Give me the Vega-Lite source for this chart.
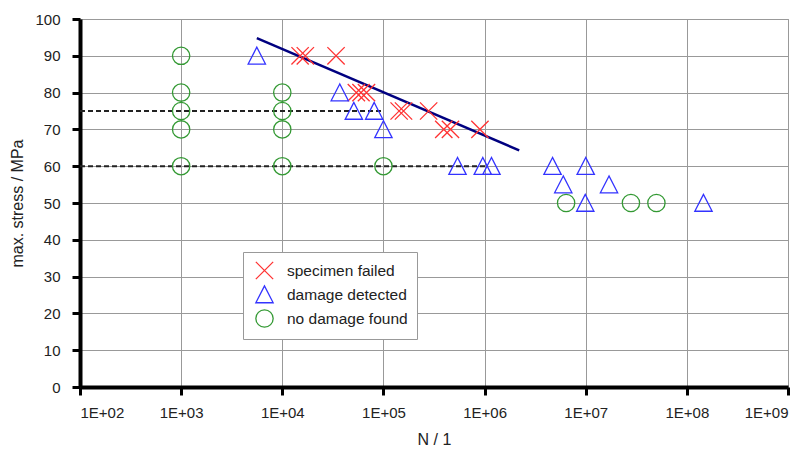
{
  "$schema": "https://vega.github.io/schema/vega-lite/v6.json",
  "width": 708,
  "height": 368,
  "autosize": {"type": "none"},
  "padding": {"left": 80, "top": 19, "right": 16, "bottom": 66},
  "background": "white",
  "config": {
    "font": "Liberation Sans",
    "view": {"stroke": "#999999", "strokeWidth": 1}
  },
  "datasets": {
    "points": [
      {"N": 15000, "stress": 90, "type": "specimen failed"},
      {"N": 16900, "stress": 90, "type": "specimen failed"},
      {"N": 34000, "stress": 90, "type": "specimen failed"},
      {"N": 54000, "stress": 80, "type": "specimen failed"},
      {"N": 60000, "stress": 80, "type": "specimen failed"},
      {"N": 68000, "stress": 80, "type": "specimen failed"},
      {"N": 143000, "stress": 75, "type": "specimen failed"},
      {"N": 158000, "stress": 75, "type": "specimen failed"},
      {"N": 280000, "stress": 75, "type": "specimen failed"},
      {"N": 395000, "stress": 70, "type": "specimen failed"},
      {"N": 460000, "stress": 70, "type": "specimen failed"},
      {"N": 900000, "stress": 70, "type": "specimen failed"},
      {"N": 5600, "stress": 90, "type": "damage detected"},
      {"N": 37000, "stress": 80, "type": "damage detected"},
      {"N": 51000, "stress": 75, "type": "damage detected"},
      {"N": 81000, "stress": 75, "type": "damage detected"},
      {"N": 100000, "stress": 70, "type": "damage detected"},
      {"N": 540000, "stress": 60, "type": "damage detected"},
      {"N": 960000, "stress": 60, "type": "damage detected"},
      {"N": 1170000, "stress": 60, "type": "damage detected"},
      {"N": 4700000, "stress": 60, "type": "damage detected"},
      {"N": 6000000, "stress": 55, "type": "damage detected"},
      {"N": 10000000, "stress": 60, "type": "damage detected"},
      {"N": 9900000, "stress": 50, "type": "damage detected"},
      {"N": 17000000, "stress": 55, "type": "damage detected"},
      {"N": 146000000, "stress": 50, "type": "damage detected"},
      {"N": 1000, "stress": 90, "type": "no damage found"},
      {"N": 1000, "stress": 80, "type": "no damage found"},
      {"N": 1000, "stress": 75, "type": "no damage found"},
      {"N": 1000, "stress": 70, "type": "no damage found"},
      {"N": 1000, "stress": 60, "type": "no damage found"},
      {"N": 10000, "stress": 80, "type": "no damage found"},
      {"N": 10000, "stress": 75, "type": "no damage found"},
      {"N": 10000, "stress": 70, "type": "no damage found"},
      {"N": 10000, "stress": 60, "type": "no damage found"},
      {"N": 100000, "stress": 60, "type": "no damage found"},
      {"N": 6400000, "stress": 50, "type": "no damage found"},
      {"N": 28000000, "stress": 50, "type": "no damage found"},
      {"N": 50000000, "stress": 50, "type": "no damage found"}
    ],
    "refs": [
      {"N": 100, "stress": 75, "g": "a"},
      {"N": 100000, "stress": 75, "g": "a"},
      {"N": 100, "stress": 60, "g": "b"},
      {"N": 1050000, "stress": 60, "g": "b"}
    ],
    "fit": [
      {"N": 5600, "stress": 94.8},
      {"N": 2200000, "stress": 64.3}
    ]
  },
  "encoding": {
    "x": {"field": "N", "type": "quantitative", "scale": {"type": "log", "domain": [100, 1000000000]},
      "axis": {"values": [100, 1000, 10000, 100000, 1000000, 10000000, 100000000, 1000000000],
        "labelExpr": "'1E+0' + format(log(datum.value)/LN10, '.0f')", "grid": true, "title": "N / 1",
        "gridColor": "#999999", "gridWidth": 1, "gridOpacity": 1,
        "domainColor": "#000000", "domainWidth": 4,
        "tickColor": "#000000", "tickWidth": 3, "tickSize": 8,
        "labelFont": "Liberation Sans", "labelFontSize": 15, "labelColor": "#222222", "labelPadding": 10,
        "titleFont": "Liberation Sans", "titleFontSize": 16, "titleFontWeight": "normal", "titleColor": "#222222", "titlePadding": 11}},
    "y": {"field": "stress", "type": "quantitative", "scale": {"domain": [0, 100]},
      "axis": {"values": [0, 10, 20, 30, 40, 50, 60, 70, 80, 90, 100], "grid": true, "title": "max. stress / MPa",
        "gridColor": "#999999", "gridWidth": 1, "gridOpacity": 1,
        "domainColor": "#000000", "domainWidth": 4,
        "tickColor": "#000000", "tickWidth": 3, "tickSize": 8,
        "labelFont": "Liberation Sans", "labelFontSize": 15, "labelColor": "#222222", "labelPadding": 12, "labelOverlap": false,
        "titleFont": "Liberation Sans", "titleFontSize": 16, "titleFontWeight": "normal", "titleColor": "#222222", "titlePadding": 9}}
  },
  "layer": [
    {
      "data": {"name": "refs"},
      "mark": {"type": "line", "color": "#222222", "strokeWidth": 2, "strokeDash": [5, 3]},
      "encoding": {
        "detail": {"field": "g"}
      }
    },
    {
      "data": {"name": "fit"},
      "mark": {"type": "line", "color": "#000080", "strokeWidth": 2.5},
      "encoding": {}
    },
    {
      "data": {"name": "points"},
      "mark": {"type": "point", "filled": false, "strokeWidth": 1.3, "size": 300, "opacity": 1},
      "encoding": {
        "shape": {"field": "type", "type": "nominal",
          "scale": {"domain": ["specimen failed", "damage detected", "no damage found"],
            "range": ["M-1,-1L1,1M-1,1L1,-1", "M0,-1L-1,0.95L1,0.95Z", "circle"]},
          "legend": {"title": null, "orient": "none", "legendX": 163, "legendY": 233,
            "fillColor": "white", "strokeColor": "#999999", "padding": 9, "symbolSize": 300,
            "symbolStrokeWidth": 1.3, "labelFontSize": 15.5, "labelColor": "#222222", "rowPadding": 1, "labelOffset": 13,
            "symbolOffset": 3, "labelExpr": "datum.label + '   '"}},
        "color": {"field": "type", "type": "nominal",
          "scale": {"domain": ["specimen failed", "damage detected", "no damage found"],
            "range": ["#ff3333", "#3333ff", "#339933"]},
          "legend": {"title": null, "orient": "none", "legendX": 163, "legendY": 233,
            "fillColor": "white", "strokeColor": "#999999", "padding": 9, "symbolSize": 300,
            "symbolStrokeWidth": 1.3, "labelFontSize": 15.5, "labelColor": "#222222", "rowPadding": 1, "labelOffset": 13,
            "symbolOffset": 3, "labelExpr": "datum.label + '   '"}}
      }
    }
  ]
}
